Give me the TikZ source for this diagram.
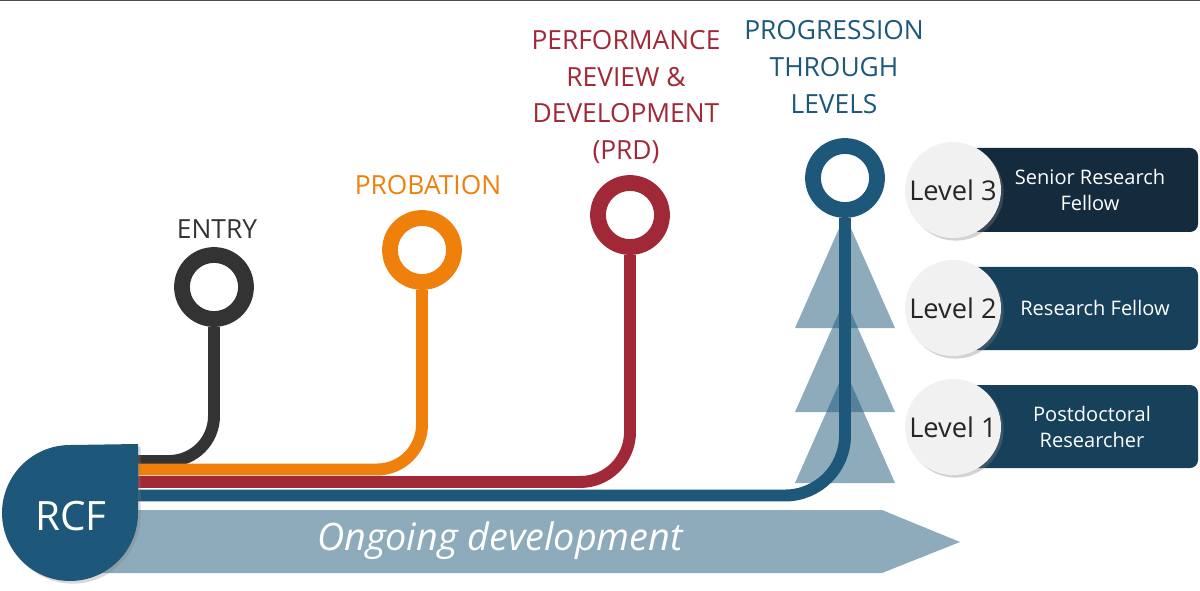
\documentclass[tikz,border=0pt]{standalone}
\usepackage{fontspec}
\setmainfont{Open Sans}
\usetikzlibrary{positioning,shadows}
\definecolor{rcfblue}{RGB}{29,87,121}
\definecolor{entrygrey}{RGB}{51,51,51}
\definecolor{proborange}{RGB}{239,128,12}
\definecolor{prdred}{RGB}{161,40,54}
\definecolor{bardark}{RGB}{20,42,61}
\definecolor{barblue}{RGB}{23,64,90}
\definecolor{lvlgrey}{RGB}{241,241,241}
\colorlet{paleblue}{rcfblue!50}

\tikzset{
  ring/.style={circle, draw=#1, line width=9pt, minimum size=1.28cm, inner sep=0pt, fill=white},
  track/.style={draw=#1, line width=6.8pt, rounded corners=1cm},
  title/.style={font=\fontsize{15}{21}\selectfont, align=center, text=#1},
  lvl/.style={circle, fill=lvlgrey, minimum size=1.92cm, inner sep=0pt, font=\fontsize{15.5}{18}\selectfont, text=black!85,
    drop shadow={shadow xshift=1.5pt, shadow yshift=-1.5pt, opacity=0.35}},
  bartext/.style={text=white, font=\fontsize{11.4}{15.3}\selectfont, align=center},
}

\begin{document}
\begin{tikzpicture}[x=0.02cm, y=-0.02cm]
\useasboundingbox (0,0) rectangle (1200,591);
\draw[black!70, line width=1pt] (0,0.6) -- (1200,0.6);

% banner
\fill[paleblue] (100,510) -- (882,510) -- (960,542) -- (882,573) -- (100,573) -- cycle;
\node[text=white, font=\fontsize{21.5}{25}\selectfont\itshape] (ongoing) at (500,541) {Ongoing development};

% level triangles
\foreach \b in {328,412,483}
  \fill[rcfblue, fill opacity=0.5] (795,\b) -- (845,\b-113) -- (895,\b) -- cycle;

% milestones
\node[ring=entrygrey] (entry) at (214,287) {};
\node[title=entrygrey] (entrytxt) at (217,229) {ENTRY};
\node[ring=proborange] (probation) at (422,250) {};
\node[title=proborange] (probtxt) at (428,185) {PROBATION};
\node[ring=prdred] (prd) at (630,215) {};
\node[title=prdred] (prdtxt) at (626,97) {PERFORMANCE\\REVIEW \&\\DEVELOPMENT\\(PRD)};
\node[ring=rcfblue] (levels) at (845,178) {};
\node[title=rcfblue] (levelstxt) at (834,67) {PROGRESSION\\THROUGH\\LEVELS};

% tracks
\coordinate (entryend) at (120,461);
\coordinate (probend) at (120,469.5);
\coordinate (prdend) at (120,482);
\coordinate (levelsend) at (120,495.5);
\draw[track=entrygrey, rounded corners=0.9cm] (entry.south) |- (entryend);
\draw[track=proborange, rounded corners=0.9cm] (probation.south) |- (probend);
\draw[track=prdred] (prd.south) |- (prdend);
\draw[track=rcfblue, rounded corners=1.2cm] (levels.south) |- (levelsend);

% RCF
\fill[rcfblue, drop shadow={shadow xshift=1.5pt, shadow yshift=-1.5pt, opacity=0.3}]
  (138,444) -- (138,513) arc[start angle=0, end angle=-270, radius=1.36cm] -- cycle;
\node[text=white, font=\fontsize{23}{26}\selectfont] (rcf) at (71,516) {RCF};

% levels
\fill[bardark, rounded corners=0.16cm] (940,148) rectangle (1198,232);
\node[bartext] (srf) at (1090,190) {Senior Research\\Fellow};
\fill[barblue, rounded corners=0.16cm] (940,267) rectangle (1198,350);
\node[bartext] (rf) at (1095,308) {Research Fellow};
\fill[barblue, rounded corners=0.16cm] (940,385) rectangle (1198,468);
\node[bartext] (pdr) at (1092,427) {Postdoctoral\\Researcher};

\node[lvl] (lvlthree) at (953,190) {Level 3};
\node[lvl] (lvltwo) at (953,308) {Level 2};
\node[lvl] (lvlone) at (953,427) {Level 1};
\end{tikzpicture}
\end{document}
